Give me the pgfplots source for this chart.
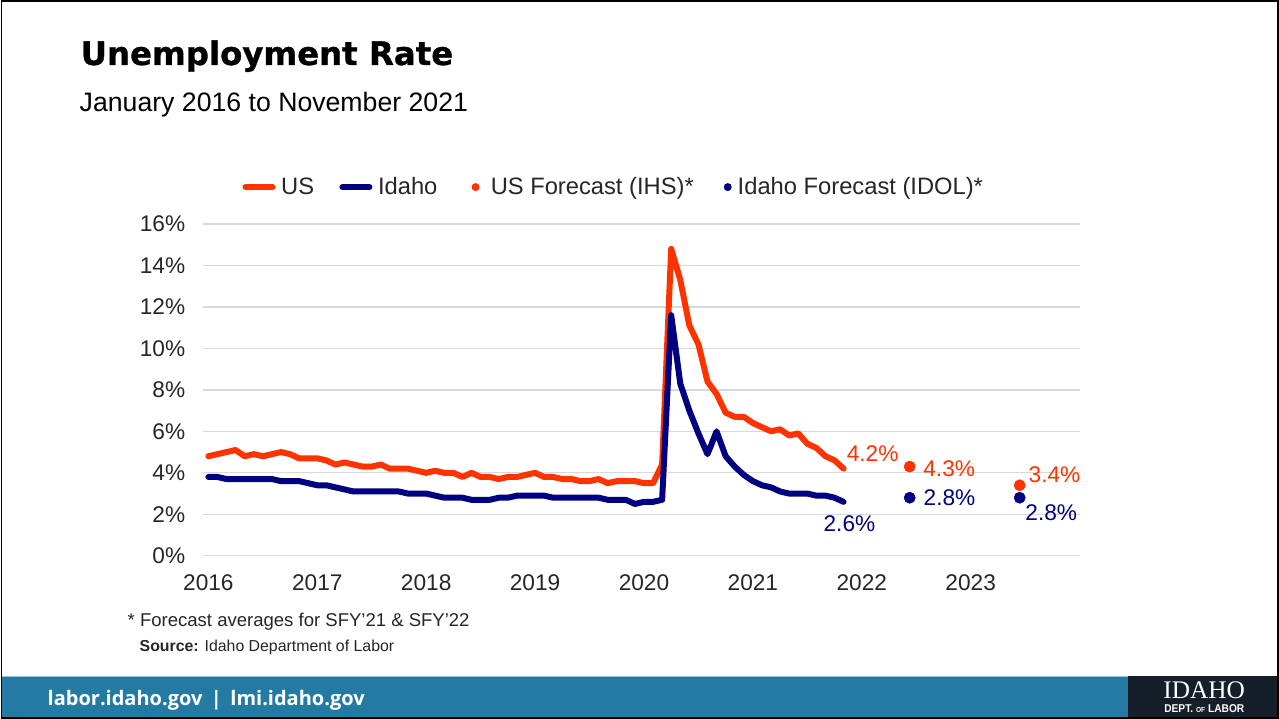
\documentclass[border=0pt]{standalone}
\usepackage{pgfplots}
\usepackage{pgfplotstable}
\pgfplotsset{compat=1.18}
\usepackage{fontspec}
\setmainfont{Liberation Sans}
\newfontfamily\titlefont[BoldFeatures={FakeBold=1}]{DejaVu Sans}
\newfontfamily\bannerfont{Open Sans}
\newfontfamily\logofont{Liberation Serif}
\definecolor{usred}{RGB}{255,51,0}
\definecolor{idnavy}{RGB}{0,0,128}
\definecolor{gridgray}{RGB}{217,217,217}
\definecolor{bannerblue}{RGB}{36,122,163}
\definecolor{logobox}{RGB}{22,30,42}
\definecolor{txt}{RGB}{38,38,38}

\pgfplotstableread{
m us id
0 4.8 3.8
1 4.9 3.8
2 5.0 3.7
3 5.1 3.7
4 4.8 3.7
5 4.9 3.7
6 4.8 3.7
7 4.9 3.7
8 5.0 3.6
9 4.9 3.6
10 4.7 3.6
11 4.7 3.5
12 4.7 3.4
13 4.6 3.4
14 4.4 3.3
15 4.5 3.2
16 4.4 3.1
17 4.3 3.1
18 4.3 3.1
19 4.4 3.1
20 4.2 3.1
21 4.2 3.1
22 4.2 3.0
23 4.1 3.0
24 4.0 3.0
25 4.1 2.9
26 4.0 2.8
27 4.0 2.8
28 3.8 2.8
29 4.0 2.7
30 3.8 2.7
31 3.8 2.7
32 3.7 2.8
33 3.8 2.8
34 3.8 2.9
35 3.9 2.9
36 4.0 2.9
37 3.8 2.9
38 3.8 2.8
39 3.7 2.8
40 3.7 2.8
41 3.6 2.8
42 3.6 2.8
43 3.7 2.8
44 3.5 2.7
45 3.6 2.7
46 3.6 2.7
47 3.6 2.5
48 3.5 2.6
49 3.5 2.6
50 4.4 2.7
51 14.8 11.6
52 13.3 8.3
53 11.1 7.0
54 10.2 5.9
55 8.4 4.9
56 7.8 6.0
57 6.9 4.8
58 6.7 4.3
59 6.7 3.9
60 6.4 3.6
61 6.2 3.4
62 6.0 3.3
63 6.1 3.1
64 5.8 3.0
65 5.9 3.0
66 5.4 3.0
67 5.2 2.9
68 4.8 2.9
69 4.6 2.8
70 4.2 2.6
}\unemp

\begin{document}
\begin{tikzpicture}[x=0.75pt,y=-0.75pt]
% slide background and frame
\fill[white] (0,0) rectangle (1279,719);
\fill[bannerblue] (0,676) rectangle (1279,719);
\draw[bannerblue!45!white, line width=0.75pt] (0,676.5) -- (1128,676.5);
\fill[logobox] (1128,676) rectangle (1277,719);
\draw[black, line width=1.5pt] (1,1) rectangle (1278,718);

% titles
\node[anchor=base west, inner sep=0] at (80,65) {\titlefont\bfseries\fontsize{24.3}{28}\selectfont Unemployment Rate};
\node[anchor=base west, inner sep=0] at (79,112) {\fontsize{20}{24}\selectfont January 2016 to November 2021};

% footnotes
\node[anchor=base west, inner sep=0, text=txt] at (127,627) {\fontsize{13.9}{16}\selectfont * Forecast averages for SFY’21 \& SFY’22};
\node[anchor=base west, inner sep=0, text=txt] at (139,652) {\fontsize{11.9}{14}\selectfont \textbf{Source:} Idaho Department of Labor};

% banner
\node[anchor=base west, inner sep=0, text=white] at (47,706) {\bannerfont\bfseries\fontsize{15}{17}\selectfont labor.idaho.gov \,|\, lmi.idaho.gov};
\node[anchor=base west, inner sep=0, text=white] at (1163,699) {\logofont\fontsize{19}{20}\selectfont IDAHO};
\node[anchor=base west, inner sep=0, text=white] at (1164,713) {\scalebox{0.9}[1]{\bfseries\fontsize{8.5}{9}\selectfont DEPT. {\fontsize{5.5}{6}\selectfont OF} LABOR}};

\begin{axis}[
  at={(151.875pt,-417pt)}, anchor=south west,
  scale only axis, width=657.75pt, height=249pt,
  xmin=2015.95, xmax=2024, ymin=0, ymax=16,
  clip=false,
  axis line style={draw=none},
  major tick length=0pt,
  ymajorgrids, grid style={gridgray, line width=1pt},
  xtick={2016,2017,2018,2019,2020,2021,2022,2023},
  xticklabels={2016,2017,2018,2019,2020,2021,2022,2023},
  ytick={0,2,4,6,8,10,12,14,16},
  yticklabels={0\%,2\%,4\%,6\%,8\%,10\%,12\%,14\%,16\%},
  ticklabel style={font=\fontsize{17}{20}\selectfont, text=txt},
  xticklabel style={yshift=-11pt},
  yticklabel style={xshift=-9.75pt},
  legend columns=4,
  legend style={at={(0.469,1.111)}, anchor=center, draw=none, fill=none,
    font=\fontsize{17.8}{21}\selectfont, text=txt,
    /tikz/every even column/.append style={column sep=17pt}},
  legend cell align=left,
]
\addplot[usred, line width=4.5pt, line join=round, line cap=round,
  legend image code/.code={\path[draw=none, fill=none] (0pt,0pt) -- (27pt,0pt);
    \draw[usred, line width=4.5pt, line cap=round] (2.25pt,0pt) -- (22.5pt,0pt);}]
  table[x expr=2016+\thisrow{m}/12, y=us] {\unemp};
\addlegendentry{US}
\addplot[idnavy, line width=4.5pt, line join=round, line cap=round,
  legend image code/.code={\path[draw=none, fill=none] (0pt,0pt) -- (27pt,0pt);
    \draw[idnavy, line width=4.5pt, line cap=round] (2.25pt,0pt) -- (22.5pt,0pt);}]
  table[x expr=2016+\thisrow{m}/12, y=id] {\unemp};
\addlegendentry{Idaho}
\addplot[only marks, mark=*, mark size=4.2pt, color=usred, mark options={fill=usred, draw=usred},
  legend image code/.code={\path[draw=none, fill=none] (0pt,0pt) -- (19pt,0pt);
    \fill[usred, draw=none] (9.6pt,0pt) circle (3pt);}]
  coordinates {(2022.44,4.3) (2023.45,3.4)};
\addlegendentry{US Forecast (IHS)*}
\addplot[only marks, mark=*, mark size=4.2pt, color=idnavy, mark options={fill=idnavy, draw=idnavy},
  legend image code/.code={\path[draw=none, fill=none] (0pt,0pt) -- (12pt,0pt);
    \fill[idnavy, draw=none] (6.5pt,0pt) circle (3pt);}]
  coordinates {(2022.44,2.8) (2023.45,2.8)};
\addlegendentry{Idaho Forecast (IDOL)*}

\node[anchor=west, inner sep=0, text=usred, font=\fontsize{17}{20}\selectfont] at (axis cs:2021.86,4.92) {4.2\%};
\node[anchor=west, inner sep=0, text=idnavy, font=\fontsize{17}{20}\selectfont] at (axis cs:2021.647,1.54) {2.6\%};
\node[anchor=west, inner sep=0, text=usred, font=\fontsize{17}{20}\selectfont] at (axis cs:2022.563,4.19) {4.3\%};
\node[anchor=west, inner sep=0, text=idnavy, font=\fontsize{17}{20}\selectfont] at (axis cs:2022.566,2.80) {2.8\%};
\node[anchor=west, inner sep=0, text=usred, font=\fontsize{17}{20}\selectfont] at (axis cs:2023.53,3.90) {3.4\%};
\node[anchor=west, inner sep=0, text=idnavy, font=\fontsize{17}{20}\selectfont] at (axis cs:2023.50,2.07) {2.8\%};
\end{axis}
\end{tikzpicture}
\end{document}
